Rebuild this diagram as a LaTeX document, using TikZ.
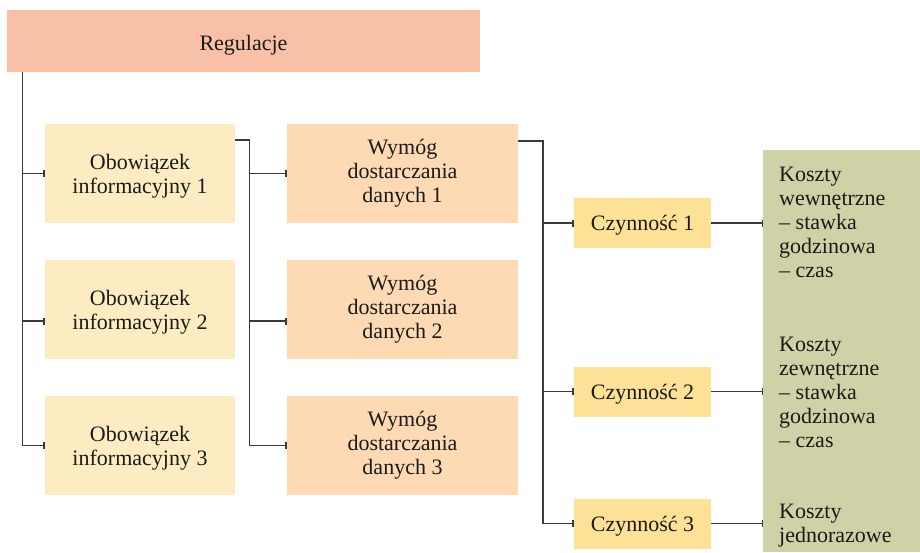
\documentclass[tikz,border=0pt]{standalone}
\usepackage{fontspec}
\setmainfont{Liberation Serif}
\newfontfamily\diagfont{Liberation Serif}
\usetikzlibrary{arrows.meta}
\definecolor{regcol}{HTML}{F9C0A8}
\definecolor{obcol}{HTML}{FDEBC1}
\definecolor{wycol}{HTML}{FDDAB3}
\definecolor{czcol}{HTML}{FDE197}
\definecolor{kocol}{HTML}{CFD1A7}
\definecolor{linecol}{HTML}{3A3A3A}
\definecolor{txtcol}{HTML}{1A1A1A}
\tikzset{
  box/.style={inner sep=0pt, align=center, text=txtcol, font=\diagfont\fontsize{22}{24}\selectfont},
  regbox/.style={inner sep=0pt, fill=regcol, minimum width=473pt, minimum height=62pt,
    label={[box,yshift=-4pt]center:#1}},
  obbox/.style={inner sep=0pt, fill=obcol, minimum width=190pt, minimum height=99pt,
    label={[box,yshift=-3pt]center:#1}},
  wybox/.style={inner sep=0pt, fill=wycol, minimum width=231pt, minimum height=99pt,
    label={[box]center:#1}},
  czbox/.style={inner sep=0pt, fill=czcol, minimum width=137pt, minimum height=50pt,
    label={[box,yshift=-2.5pt]center:#1}},
  kotext/.style={box, align=left, anchor=north west},
  link/.style={draw=linecol, line width=1.5pt},
  tick/.style={link, -{Bar[width=7pt]}},
}
\begin{document}
\begin{tikzpicture}[x=1pt,y=-1pt]
  \useasboundingbox (0,0) rectangle (920,552);
  % top
  \node[regbox={Regulacje}] (reg) at (243.5,41) {};
  % obowiazki
  \node[obbox={Obowiązek\\informacyjny 1}] (ob1) at (140,173.5) {};
  \node[obbox={Obowiązek\\informacyjny 2}] (ob2) at (140,309.5) {};
  \node[obbox={Obowiązek\\informacyjny 3}] (ob3) at (140,445.5) {};
  % wymogi
  \node[wybox={Wymóg\\dostarczania\\danych 1}] (wy1) at (402.5,173.5) {};
  \node[wybox={Wymóg\\dostarczania\\danych 2}] (wy2) at (402.5,309.5) {};
  \node[wybox={Wymóg\\dostarczania\\danych 3}] (wy3) at (402.5,445.5) {};
  % czynnosci
  \node[czbox={Czynność 1}] (cz1) at (642.5,223) {};
  \node[czbox={Czynność 2}] (cz2) at (642.5,391.5) {};
  \node[czbox={Czynność 3}] (cz3) at (642.5,523.5) {};
  % koszty
  \node[fill=kocol, inner sep=0pt, minimum width=157pt, minimum height=402pt, anchor=north west] (koszty) at (763,150) {};
  \node[kotext] (k1) at (779,167) {Koszty\\wewnętrzne\\– stawka\\godzinowa\\– czas};
  \node[kotext] (k2) at (779,337) {Koszty\\zewnętrzne\\– stawka\\godzinowa\\– czas};
  \node[kotext] (k3) at (779,504) {Koszty\\jednorazowe};

  \coordinate (t1) at ([xshift=15.5pt]reg.south west);
  \coordinate (j2) at (249.5,0);
  \coordinate (j3) at (543,0);
  \foreach \n in {ob1,ob3}
    \draw[tick] (t1) |- (\n.west);
  \draw[tick] (t1) |- ([yshift=-11.5pt]ob2.west);

  \draw[tick] ([yshift=33.5pt]ob1.east) -| (j2 |- wy1.west) -- (wy1.west);
  \draw[tick] (j2 |- wy1.west) |- ([yshift=-11.5pt]wy2.west);
  \draw[tick] (j2 |- wy1.west) |- (wy3.west);

  \draw[tick] ([yshift=32.5pt]wy1.east) -| (j3 |- cz1.west) -- (cz1.west);
  \foreach \n in {cz2,cz3}
    \draw[tick] (j3 |- cz1.west) |- (\n.west);

  \foreach \n in {cz1,cz2,cz3}
    \draw[tick] (\n.east) -- (\n.east -| koszty.west);
\end{tikzpicture}
\end{document}
